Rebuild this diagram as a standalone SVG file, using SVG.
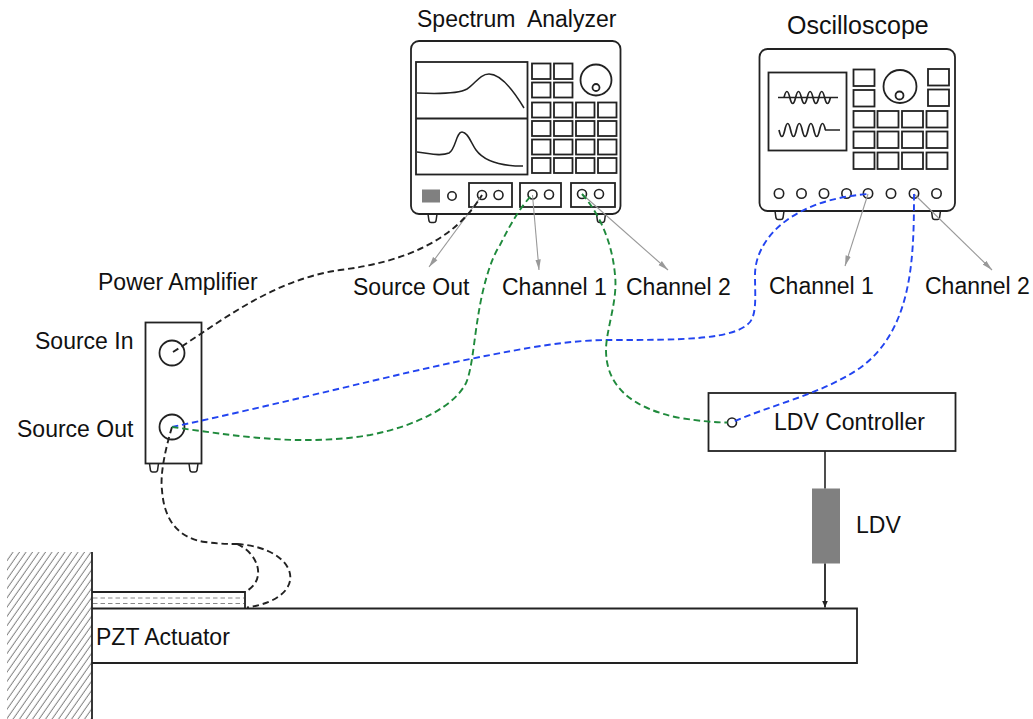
<svg xmlns="http://www.w3.org/2000/svg" width="1033" height="719" viewBox="0 0 1033 719">
  <style>
    .ln { fill: none; stroke: #222; stroke-width: 1.8; }
    .thin { fill: none; stroke: #222; stroke-width: 1.5; }
    .wave { fill: none; stroke: #222; stroke-width: 1.7; }
    .btn { fill: #fff; stroke: #222; stroke-width: 1.8; }
    .jack { fill: #fff; stroke: #222; stroke-width: 1.6; }
    .lbl { font-family: "Liberation Sans", Arial, sans-serif; font-size: 23px; fill: #111; }
    .lead { fill: none; stroke: #999; stroke-width: 1.1; marker-end: url(#grayArrow); }
    .cable { fill: none; stroke-width: 1.9; stroke-dasharray: 6.5 3.8; }
    .blk { stroke: #222; }
    .blue { stroke: #2244f0; }
    .green { stroke: #1f8a3c; }
  </style>
  <defs>
    <marker id="grayArrow" markerWidth="11" markerHeight="7" refX="10.5" refY="3.5" orient="auto" markerUnits="userSpaceOnUse">
      <path d="M0,0.8 L10.5,3.5 L0,6.2 Z" fill="#999"/>
    </marker>
    <marker id="blackArrow" markerWidth="8" markerHeight="8" refX="7" refY="3" orient="auto" markerUnits="userSpaceOnUse">
      <path d="M0,0 L7,3 L0,6 Z" fill="#222"/>
    </marker>
    <pattern id="hatch" width="6.5" height="10" patternUnits="userSpaceOnUse" patternTransform="skewX(-35)">
      <line x1="3" y1="0" x2="3" y2="10" stroke="#444" stroke-width="0.8"/>
    </pattern>
    <path id="foot" d="M0,0 L1,7 Q1.5,8.5 3,8.5 L6,8.5 Q7.5,8.5 8,7 L9,0" fill="#fff" stroke="#222" stroke-width="1.5"/>
  </defs>

  <!-- Spectrum analyzer -->
  <g id="spectrum-analyzer">
    <text class="lbl" x="417" y="27" xml:space="preserve">Spectrum  Analyzer</text>
    <use href="#foot" x="428" y="214"/>
    <use href="#foot" x="596.5" y="214"/>
    <rect class="ln" x="411" y="41" width="209.5" height="173" rx="8"/>
    <rect class="ln" x="416" y="62" width="111.5" height="112.5"/>
    <line class="ln" x1="416" y1="118.5" x2="527.5" y2="118.5"/>
    <path class="thin" d="M417,93 C440,94 460,93 467,89 C475,84 480,74 489,74 C500,74 512,88 524,108"/>
    <path class="thin" d="M417,152 C428,153 440,157 449,153 C456,149 456,132 462,132 C468,132 471,143 476,150 C484,161 500,166 523,166"/>
    <rect class="btn" x="532" y="63.5" width="18.5" height="15.5"/>
    <rect class="btn" x="554" y="63.5" width="18.5" height="15.5"/>
    <rect class="btn" x="532" y="82.5" width="18.5" height="15"/>
    <rect class="btn" x="554" y="82.5" width="18.5" height="15"/>
    <circle class="ln" cx="596" cy="80" r="15.5"/>
    <circle class="ln" cx="596" cy="87.5" r="3.5"/>
    <g id="sa-keys">
      <rect class="btn" x="532" y="102.5" width="18.5" height="15"/>
      <rect class="btn" x="554" y="102.5" width="18.5" height="15"/>
      <rect class="btn" x="576" y="102.5" width="18.5" height="15"/>
      <rect class="btn" x="598" y="102.5" width="18.5" height="15"/>
      <rect class="btn" x="532" y="121" width="18.5" height="15"/>
      <rect class="btn" x="554" y="121" width="18.5" height="15"/>
      <rect class="btn" x="576" y="121" width="18.5" height="15"/>
      <rect class="btn" x="598" y="121" width="18.5" height="15"/>
      <rect class="btn" x="532" y="139.5" width="18.5" height="15"/>
      <rect class="btn" x="554" y="139.5" width="18.5" height="15"/>
      <rect class="btn" x="576" y="139.5" width="18.5" height="15"/>
      <rect class="btn" x="598" y="139.5" width="18.5" height="15"/>
      <rect class="btn" x="532" y="158" width="18.5" height="15"/>
      <rect class="btn" x="554" y="158" width="18.5" height="15"/>
      <rect class="btn" x="576" y="158" width="18.5" height="15"/>
      <rect class="btn" x="598" y="158" width="18.5" height="15"/>
    </g>
    <rect x="422" y="189.5" width="18" height="13" fill="#808080"/>
    <circle class="jack" cx="452" cy="196" r="4.2"/>
    <rect class="ln" x="469" y="183" width="43" height="24"/>
    <circle class="jack" cx="482" cy="195" r="4.5"/>
    <circle class="jack" cx="498.5" cy="195" r="4.5"/>
    <rect class="ln" x="520" y="183" width="41" height="24"/>
    <circle class="jack" cx="532.5" cy="194.5" r="4.5"/>
    <circle class="jack" cx="549" cy="194.5" r="4.5"/>
    <rect class="ln" x="571" y="183" width="44" height="24"/>
    <circle class="jack" cx="582" cy="194" r="4.5"/>
    <circle class="jack" cx="599" cy="194" r="4.5"/>
  </g>

  <!-- Oscilloscope -->
  <g id="oscilloscope">
    <text class="lbl" x="787" y="34" style="font-size:25px">Oscilloscope</text>
    <use href="#foot" x="775" y="211"/>
    <use href="#foot" x="931.5" y="211"/>
    <rect class="ln" x="759.5" y="49" width="195.5" height="162" rx="8"/>
    <rect class="ln" x="768.5" y="72.5" width="78" height="78"/>
    <line class="thin" x1="778" y1="97.5" x2="838" y2="97.5"/>
    <path class="wave" d="M784,97.5 q2.9,-12 5.8,0 t5.8,0 t5.8,0 t5.8,0 t5.8,0 t5.8,0 t5.8,0 t5.8,0"/>
    <line class="thin" x1="825" y1="130" x2="840" y2="130"/>
    <path class="wave" d="M779,130 q2.9,13 5.8,0 t5.8,0 t5.8,0 t5.8,0 t5.8,0 t5.8,0 t5.8,0 t5.8,0"/>
    <rect class="btn" x="853.5" y="69.5" width="21" height="16.5"/>
    <rect class="btn" x="853.5" y="90" width="21" height="16.5"/>
    <rect class="btn" x="928" y="69" width="21" height="16.5"/>
    <rect class="btn" x="928" y="89.5" width="21" height="16.5"/>
    <circle class="ln" cx="900" cy="86.5" r="16.5"/>
    <circle class="ln" cx="899.5" cy="95.5" r="4"/>
    <g id="osc-keys">
      <rect class="btn" x="853.5" y="111" width="21" height="16.5"/>
      <rect class="btn" x="877.5" y="111" width="21" height="16.5"/>
      <rect class="btn" x="902" y="111" width="21" height="16.5"/>
      <rect class="btn" x="926.5" y="111" width="21" height="16.5"/>
      <rect class="btn" x="853.5" y="131.5" width="21" height="16.5"/>
      <rect class="btn" x="877.5" y="131.5" width="21" height="16.5"/>
      <rect class="btn" x="902" y="131.5" width="21" height="16.5"/>
      <rect class="btn" x="926.5" y="131.5" width="21" height="16.5"/>
      <rect class="btn" x="853.5" y="152.5" width="21" height="16.5"/>
      <rect class="btn" x="877.5" y="152.5" width="21" height="16.5"/>
      <rect class="btn" x="902" y="152.5" width="21" height="16.5"/>
      <rect class="btn" x="926.5" y="152.5" width="21" height="16.5"/>
    </g>
    <circle class="jack" cx="779" cy="193.5" r="4.7"/>
    <circle class="jack" cx="801.5" cy="193.5" r="4.7"/>
    <circle class="jack" cx="824" cy="193.5" r="4.7"/>
    <circle class="jack" cx="846.5" cy="193.5" r="4.7"/>
    <circle class="jack" cx="868" cy="193.5" r="4.7"/>
    <circle class="jack" cx="891" cy="193.5" r="4.7"/>
    <circle class="jack" cx="914" cy="193.5" r="4.7"/>
    <circle class="jack" cx="936.5" cy="193.5" r="4.7"/>
  </g>

  <!-- Power amplifier -->
  <g id="power-amplifier">
    <text class="lbl" x="98" y="290">Power Amplifier</text>
    <text class="lbl" x="35" y="349">Source In</text>
    <text class="lbl" x="17" y="437">Source Out</text>
    <use href="#foot" x="149.5" y="463.5"/>
    <use href="#foot" x="189" y="463.5"/>
    <rect class="ln" x="145.5" y="322.5" width="56" height="141"/>
    <circle class="ln" cx="172" cy="353" r="12.5"/>
    <circle class="ln" cx="172" cy="427" r="12.5"/>
  </g>

  <!-- LDV controller and laser head -->
  <g id="ldv-controller">
    <rect class="ln" x="708.5" y="393" width="247" height="58"/>
    <circle class="jack" cx="732" cy="422.5" r="4.5"/>
    <text class="lbl" x="774" y="430">LDV Controller</text>
  </g>
  <g id="ldv">
    <rect x="812" y="488.5" width="28" height="75" fill="#808080"/>
    <text class="lbl" x="856" y="533">LDV</text>
  </g>

  <!-- Clamped beam with PZT actuator -->
  <g id="beam">
    <rect x="7" y="552" width="85" height="167" fill="url(#hatch)"/>
    <line class="ln" x1="92" y1="552" x2="92" y2="719"/>
    <path class="ln" d="M92,608.5 H857 V663 H92"/>
    <text class="lbl" x="96" y="645">PZT Actuator</text>
  </g>
  <g id="pzt">
    <path class="ln" d="M92,592 H245 V608.5"/>
    <line x1="93" y1="598" x2="244" y2="598" stroke="#888" stroke-width="1" stroke-dasharray="4.5 3"/>
    <line x1="93" y1="603.5" x2="244" y2="603.5" stroke="#888" stroke-width="1" stroke-dasharray="4.5 3"/>
  </g>

  <!-- Port labels -->
  <g id="port-labels">
    <text class="lbl" x="353" y="295">Source Out</text>
    <text class="lbl" x="502" y="295">Channel 1</text>
    <text class="lbl" x="626" y="295">Channel 2</text>
    <text class="lbl" x="769" y="294">Channel 1</text>
    <text class="lbl" x="925" y="294">Channel 2</text>
  </g>

  <!-- Connectors: leaders, cables and beam path -->
  <g id="connectors">
    <line class="lead" x1="482" y1="195" x2="429" y2="267"/>
    <line class="lead" x1="532.5" y1="195" x2="539" y2="270"/>
    <line class="lead" x1="582" y1="194" x2="668" y2="270"/>
    <line class="lead" x1="868" y1="194" x2="845" y2="266"/>
    <line class="lead" x1="914" y1="194" x2="992" y2="270"/>

    <line x1="825" y1="451" x2="825" y2="488.5" stroke="#222" stroke-width="1.6"/>
    <line x1="825" y1="563.5" x2="825" y2="607.5" stroke="#222" stroke-width="1.8" marker-end="url(#blackArrow)"/>

    <!-- amplifier input from analyzer source -->
    <path class="cable blk" d="M173,352 C215,326 270,280 340,270 C405,262 455,240 482,195"/>
    <!-- amplifier output to the actuator -->
    <path class="cable blk" d="M172,427 C165,450 160,475 162,490 C164,520 178,538 205,542 C220,544 230,544 237,544"/>
    <path class="cable blk" d="M237,544 C258,553 268,580 245,592"/>
    <path class="cable blk" d="M237,544 C300,548 312,598 247,607.5"/>
    <!-- amplifier output to oscilloscope channel 1 -->
    <path class="cable blue" d="M172,427 C280,404 400,373 470,359 C530,347 570,340 610,340 C680,340 735,340 750,322 C757,313 755,295 755,275 C755,240 790,200 868,194"/>
    <!-- controller to oscilloscope channel 2 -->
    <path class="cable blue" d="M914,194 C914,260 912,330 860,368 C820,395 770,405 732,422.5"/>
    <!-- amplifier output to analyzer channel 1 -->
    <path class="cable green" d="M172,427 C230,435 300,447 370,435 C420,425 455,405 466,383 C472,370 474,340 478,317 C482,290 490,260 500,245 C510,225 520,207 532.5,194.5"/>
    <!-- controller to analyzer channel 2 -->
    <path class="cable green" d="M582,194 C598,212 612,240 615,275 C618,300 606,330 606,350 C606,385 630,408 680,418 C700,421 715,422.5 727.5,422.5"/>
  </g>
</svg>
